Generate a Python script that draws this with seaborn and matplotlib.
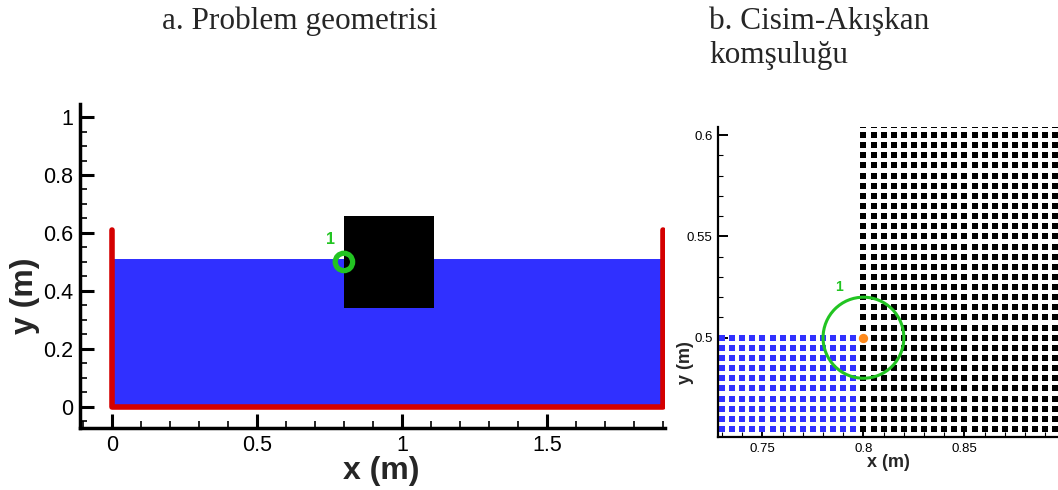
import numpy as np
import pandas as pd
import matplotlib
matplotlib.use("Agg")
import matplotlib.pyplot as plt
from matplotlib.patches import Rectangle, Circle
from matplotlib.ticker import MultipleLocator, FixedLocator
import seaborn as sns

# ---------------- data ----------------
# panel a: geometry (m)
tank_wall_x = [0.0, 0.0, 1.9, 1.9]
tank_wall_y = [0.61, 0.0, 0.0, 0.61]
water_x = [0.0, 1.9]
water_level = 0.51
body_x = [0.80, 1.11]
body_y = [0.34, 0.66]
probe_center = [0.80, 0.50]
probe_radius_a = 0.03
probe_label = "1"
a_xticks = [0, 0.5, 1, 1.5]
a_xticklabels = ["0", "0.5", "1", "1.5"]
a_yticks = [0, 0.2, 0.4, 0.6, 0.8, 1]
a_yticklabels = ["0", "0.2", "0.4", "0.6", "0.8", "1"]

# panel b: grid neighbourhood
grid_step = 0.005
fluid_x_range = [0.730, 0.795]
fluid_y_range = [0.455, 0.500]
solid_x_range = [0.800, 0.900]
solid_y_range = [0.455, 0.605]
interface_point = [0.80, 0.50]
probe_radius_b = 0.02
b_xticks = [0.75, 0.8, 0.85]
b_xticklabels = ["0.75", "0.8", "0.85"]
b_yticks = [0.5, 0.55, 0.6]
b_yticklabels = ["0.5", "0.55", "0.6"]

titles = ["a. Problem geometrisi", "b. Cisim-Akışkan", "komşuluğu"]

# --------------- build tables ---------------
def lattice(xr, yr, step):
    xs = np.round(np.arange(xr[0], xr[1] + step / 2, step), 4)
    ys = np.round(np.arange(yr[0], yr[1] + step / 2, step), 4)
    X, Y = np.meshgrid(xs, ys)
    return pd.DataFrame({"x": X.ravel(), "y": Y.ravel()})

fluid = lattice(fluid_x_range, fluid_y_range, grid_step)
solid = lattice(solid_x_range, solid_y_range, grid_step)
solid = solid[~((np.isclose(solid.x, interface_point[0])) & (np.isclose(solid.y, interface_point[1])))]

# --------------- style ---------------
sns.set_theme(style="white")
plt.rcParams["font.family"] = ["Liberation Sans", "DejaVu Sans"]

BLUE = "#3030ff"
RED = "#d40000"
GREEN = "#22c422"
ORANGE = "#ff8a1c"
SERIF = ["Liberation Serif", "DejaVu Serif"]

fig = plt.figure(figsize=(10.58, 4.90), dpi=100)

# ---------------- panel a ----------------
axa = fig.add_axes([80 / 1058, (490 - 428) / 490, 585 / 1058, 324 / 490])
axa.set_xlim(-0.11, 1.907)
axa.set_ylim(-0.073, 1.045)
axa.fill_between(water_x, 0, water_level, color=BLUE, lw=0, zorder=1)
axa.add_patch(Rectangle((body_x[0], body_y[0]), body_x[1] - body_x[0], body_y[1] - body_y[0],
                        color="black", lw=0, zorder=2))
sns.lineplot(x=tank_wall_x, y=tank_wall_y, sort=False, estimator=None, color=RED, lw=4,
             ax=axa, zorder=3)
axa.add_patch(Circle(probe_center, probe_radius_a, fill=False, ec=GREEN, lw=3.8, zorder=4))
axa.text(probe_center[0] - 0.045, probe_center[1] + 0.05, probe_label, color=GREEN,
         fontsize=11.5, fontweight="bold", ha="center", va="bottom")

axa.xaxis.set_major_locator(FixedLocator(a_xticks))
axa.set_xticklabels(a_xticklabels)
axa.yaxis.set_major_locator(FixedLocator(a_yticks))
axa.set_yticklabels(a_yticklabels)
axa.xaxis.set_minor_locator(MultipleLocator(0.1))
axa.yaxis.set_minor_locator(MultipleLocator(0.05))
axa.tick_params(which="both", direction="in", colors="black", labelsize=15.5, pad=5,
                bottom=True, left=True, top=False, right=False)
axa.tick_params(which="major", length=10, width=2.2)
axa.tick_params(which="minor", length=5, width=1.2)
for s in ["top", "right"]:
    axa.spines[s].set_visible(False)
for s in ["left", "bottom"]:
    axa.spines[s].set_color("black")
    axa.spines[s].set_linewidth(2.5)
axa.set_xlabel("x (m)", fontsize=23, fontweight="bold")
axa.set_ylabel("y (m)", fontsize=23, fontweight="bold")
axa.xaxis.set_label_coords((381 - 80) / 585, (428 - 456) / 324)
axa.yaxis.set_label_coords((40 - 80) / 585, (428 - 296) / 324)
axa.set_facecolor("white")

# ---------------- panel b ----------------
axb = fig.add_axes([718 / 1058, (490 - 437) / 490, 340 / 1058, 310 / 490])
axb.set_xlim(0.728, 0.8963)
axb.set_ylim(0.451, 0.604)
sns.scatterplot(data=fluid, x="x", y="y", marker="s", s=18, color=BLUE, linewidth=0,
                ax=axb, zorder=2)
sns.scatterplot(data=solid, x="x", y="y", marker="s", s=18, color="black", linewidth=0,
                ax=axb, zorder=2)
sns.scatterplot(x=[interface_point[0]], y=[interface_point[1]], marker="o", s=45,
                color=ORANGE, linewidth=0, ax=axb, zorder=3)
axb.add_patch(Circle(interface_point, probe_radius_b, fill=False, ec=GREEN, lw=2.2, zorder=4))
axb.text(0.788, 0.5215, probe_label, color=GREEN, fontsize=10, fontweight="bold",
         ha="center", va="bottom")

axb.xaxis.set_major_locator(FixedLocator(b_xticks))
axb.set_xticklabels(b_xticklabels)
axb.yaxis.set_major_locator(FixedLocator(b_yticks))
axb.set_yticklabels(b_yticklabels)
axb.xaxis.set_minor_locator(MultipleLocator(0.01))
axb.yaxis.set_minor_locator(MultipleLocator(0.01))
axb.tick_params(which="both", direction="in", colors="black", labelsize=9.5, pad=4,
                bottom=True, left=True, top=False, right=False)
axb.tick_params(which="major", length=7, width=1.4)
axb.tick_params(which="minor", length=3.5, width=0.8)
for s in ["top", "right"]:
    axb.spines[s].set_visible(False)
for s in ["left", "bottom"]:
    axb.spines[s].set_color("black")
    axb.spines[s].set_linewidth(1.6)
axb.set_xlabel("x (m)", fontsize=13, fontweight="bold")
axb.set_ylabel("y (m)", fontsize=13, fontweight="bold")
axb.xaxis.set_label_coords(0.5, (437 - 454) / 310)
axb.yaxis.set_label_coords((694 - 718) / 340, (437 - 363) / 310)
axb.set_facecolor("white")

# ---------------- titles ----------------
fig.text(300 / 1058, 1 - 21 / 490, titles[0], fontsize=22.5, family=SERIF,
         ha="center", va="center")
fig.text(709 / 1058, 1 - 21 / 490, titles[1], fontsize=22.5, family=SERIF,
         ha="left", va="center")
fig.text(709 / 1058, 1 - 56 / 490, titles[2], fontsize=22.5, family=SERIF,
         ha="left", va="center")

fig.savefig("out.png", dpi=100, facecolor="white")
